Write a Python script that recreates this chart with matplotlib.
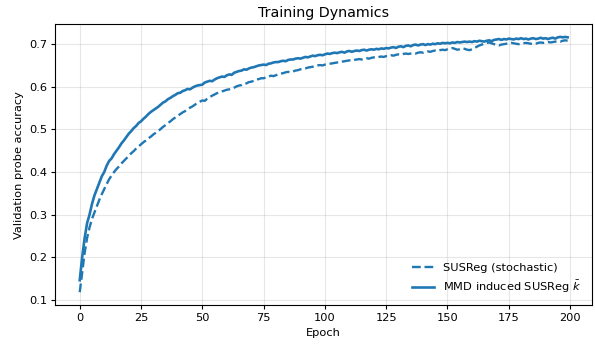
import matplotlib
matplotlib.use("Agg")
import matplotlib.pyplot as plt
import numpy as np

# Validation probe accuracy per epoch
epochs = np.arange(200)

susreg_stochastic = [
    0.118, 0.165, 0.210, 0.245, 0.270, 0.290, 0.305, 0.320, 0.335, 0.348,
    0.360, 0.372, 0.383, 0.392, 0.400, 0.407, 0.413, 0.420, 0.426, 0.432,
    0.438, 0.444, 0.449, 0.455, 0.460, 0.465, 0.470, 0.474, 0.479, 0.483,
    0.488, 0.492, 0.496, 0.501, 0.506, 0.510, 0.515, 0.519, 0.524, 0.528,
    0.532, 0.536, 0.540, 0.543, 0.547, 0.551, 0.554, 0.558, 0.562, 0.565,
    0.568, 0.567, 0.572, 0.576, 0.579, 0.582, 0.585, 0.587, 0.589, 0.591,
    0.593, 0.594, 0.596, 0.598, 0.601, 0.603, 0.604, 0.607, 0.608, 0.611,
    0.612, 0.614, 0.617, 0.618, 0.620, 0.620, 0.622, 0.624, 0.626, 0.625,
    0.627, 0.629, 0.631, 0.632, 0.634, 0.635, 0.634, 0.636, 0.638, 0.639,
    0.641, 0.642, 0.643, 0.645, 0.646, 0.647, 0.648, 0.650, 0.651, 0.650,
    0.652, 0.653, 0.654, 0.655, 0.656, 0.657, 0.658, 0.659, 0.660, 0.661,
    0.662, 0.661, 0.663, 0.664, 0.665, 0.664, 0.666, 0.667, 0.666, 0.668,
    0.669, 0.668, 0.670, 0.671, 0.670, 0.672, 0.673, 0.674, 0.673, 0.675,
    0.676, 0.675, 0.677, 0.678, 0.677, 0.678, 0.679, 0.678, 0.680, 0.681,
    0.680, 0.682, 0.683, 0.682, 0.684, 0.685, 0.684, 0.686, 0.687, 0.686,
    0.688, 0.690, 0.691, 0.689, 0.687, 0.688, 0.690, 0.689, 0.687, 0.686,
    0.688, 0.691, 0.694, 0.697, 0.699, 0.701, 0.703, 0.704, 0.702, 0.700,
    0.698, 0.697, 0.699, 0.700, 0.701, 0.702, 0.703, 0.702, 0.701, 0.700,
    0.701, 0.702, 0.703, 0.702, 0.701, 0.700, 0.701, 0.703, 0.704, 0.703,
    0.704, 0.705, 0.704, 0.705, 0.706, 0.707, 0.706, 0.708, 0.709, 0.708,
]

mmd_susreg = [
    0.146, 0.200, 0.245, 0.280, 0.300, 0.325, 0.345, 0.360, 0.375, 0.390,
    0.400, 0.415, 0.426, 0.432, 0.442, 0.450, 0.458, 0.467, 0.474, 0.482,
    0.490, 0.496, 0.503, 0.508, 0.515, 0.519, 0.525, 0.530, 0.536, 0.541,
    0.545, 0.549, 0.553, 0.558, 0.563, 0.566, 0.571, 0.574, 0.578, 0.581,
    0.585, 0.586, 0.590, 0.592, 0.595, 0.594, 0.598, 0.601, 0.603, 0.604,
    0.605, 0.610, 0.612, 0.614, 0.613, 0.617, 0.620, 0.622, 0.624, 0.623,
    0.627, 0.629, 0.628, 0.633, 0.635, 0.637, 0.638, 0.641, 0.640, 0.643,
    0.645, 0.646, 0.648, 0.650, 0.651, 0.652, 0.651, 0.654, 0.655, 0.657,
    0.658, 0.658, 0.660, 0.661, 0.660, 0.663, 0.664, 0.664, 0.666, 0.667,
    0.666, 0.668, 0.670, 0.669, 0.671, 0.673, 0.672, 0.674, 0.675, 0.674,
    0.676, 0.678, 0.677, 0.679, 0.680, 0.679, 0.681, 0.682, 0.680, 0.683,
    0.684, 0.682, 0.684, 0.685, 0.684, 0.686, 0.687, 0.685, 0.687, 0.688,
    0.687, 0.689, 0.688, 0.690, 0.689, 0.691, 0.690, 0.692, 0.693, 0.691,
    0.694, 0.695, 0.693, 0.696, 0.697, 0.695, 0.698, 0.699, 0.697, 0.699,
    0.700, 0.698, 0.700, 0.699, 0.701, 0.700, 0.702, 0.701, 0.703, 0.702,
    0.703, 0.702, 0.704, 0.703, 0.705, 0.704, 0.705, 0.706, 0.705, 0.706,
    0.705, 0.707, 0.706, 0.708, 0.707, 0.706, 0.708, 0.709, 0.707, 0.710,
    0.711, 0.712, 0.710, 0.712, 0.711, 0.713, 0.712, 0.711, 0.713, 0.712,
    0.714, 0.712, 0.713, 0.711, 0.713, 0.714, 0.712, 0.713, 0.715, 0.713,
    0.714, 0.712, 0.714, 0.715, 0.713, 0.716, 0.717, 0.716, 0.717, 0.716,
]

color = '#1f77b4'

fig = plt.figure(figsize=(5.95, 3.45), dpi=100)
ax = fig.add_axes([0.093, 0.116, 0.902, 0.814])

ax.plot(epochs, susreg_stochastic, '--', color=color, linewidth=1.7, label='SUSReg (stochastic)')
ax.plot(epochs, mmd_susreg, '-', color=color, linewidth=1.9, label=r'MMD induced SUSReg $\bar{k}$')

ax.set_title('Training Dynamics', fontsize=10.3, pad=5)
ax.set_xlabel('Epoch', fontsize=8.2, labelpad=4)
ax.set_ylabel('Validation probe accuracy', fontsize=8.2, labelpad=4)
ax.tick_params(labelsize=8.2, length=3, pad=2.5)
ax.set_xticks([0, 25, 50, 75, 100, 125, 150, 175, 200])
ax.grid(True, alpha=0.3)
ax.legend(loc='lower right', frameon=False, fontsize=8.2)

fig.savefig('out.png', dpi=100)
